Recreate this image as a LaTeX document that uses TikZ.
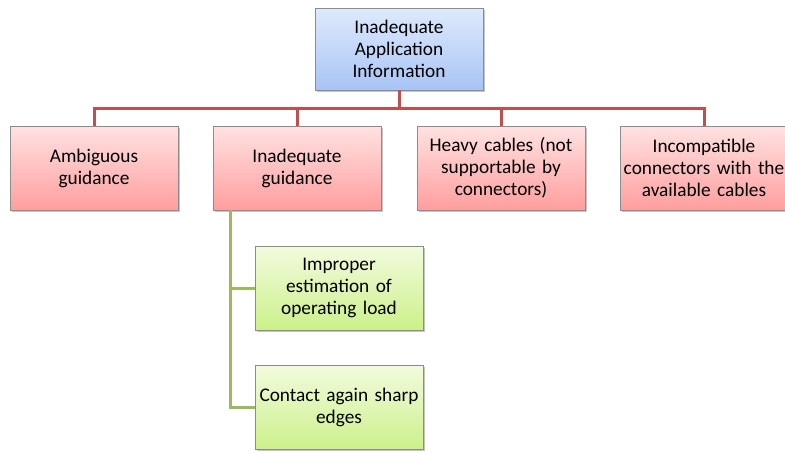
\documentclass[tikz,border=0pt]{standalone}
\usepackage{fontspec}
\setmainfont{Carlito}
\usetikzlibrary{shadows}
\definecolor{boxline}{HTML}{8C8C8C}
\definecolor{redline}{HTML}{C0504D}
\definecolor{greenline}{HTML}{9BBB59}
\tikzset{
  every node/.style={font=\fontsize{19.3}{22}\selectfont, align=center},
  basebox/.style={draw=boxline, line width=0.8pt, minimum width=168pt, text width=168pt, inner xsep=0pt,
    drop shadow={shadow xshift=1.5pt, shadow yshift=-1.5pt, fill=black!45, opacity=0.5}},
  bluebox/.style={basebox, minimum height=82pt,
    top color={rgb,255:red,222;green,234;blue,252}, bottom color={rgb,255:red,168;green,196;blue,245}},
  redbox/.style={basebox, minimum height=84pt,
    top color={rgb,255:red,255;green,226;blue,226}, bottom color={rgb,255:red,255;green,158;blue,158}},
  greenbox/.style={basebox, minimum height=84pt,
    top color={rgb,255:red,242;green,251;blue,222}, bottom color={rgb,255:red,204;green,240;blue,138}},
  redlink/.style={draw=redline, line width=3pt},
  greenlink/.style={draw=greenline, line width=3pt},
}
\begin{document}
\begin{tikzpicture}[x=1pt, y=-1pt]
\useasboundingbox (0,0) rectangle (785,453);
\coordinate (bus) at (399,108);
\node[bluebox] (root) at (399,49) {Inadequate\\Application\\Information};
\node[redbox] (amb) at (94,168) {Ambiguous\\guidance};
\node[redbox] (inad) at (297,168) {Inadequate\\guidance};
\node[redbox] (heavy) at (501,168) {Heavy cables (not\\supportable by\\connectors)};
\node[redbox] (incomp) at (704,168) {Incompatible\\connectors with the\\available cables};
\node[greenbox] (load) at (339,288) {Improper\\estimation of\\operating load};
\node[greenbox] (edges) at (339,407.5) {Contact again sharp\\edges};
\draw[redlink] (root.south) -- (bus);
\draw[redlink] (amb.north) -- (amb.north |- bus) -- (incomp.north |- bus) -- (incomp.north);
\draw[redlink] (inad.north) -- (inad.north |- bus);
\draw[redlink] (heavy.north) -- (heavy.north |- bus);
\coordinate (trunk) at (230,210);
\draw[greenlink] (trunk) -- (trunk |- edges.west) -- (edges.west);
\draw[greenlink] (trunk |- load.west) -- (load.west);
\end{tikzpicture}
\end{document}
